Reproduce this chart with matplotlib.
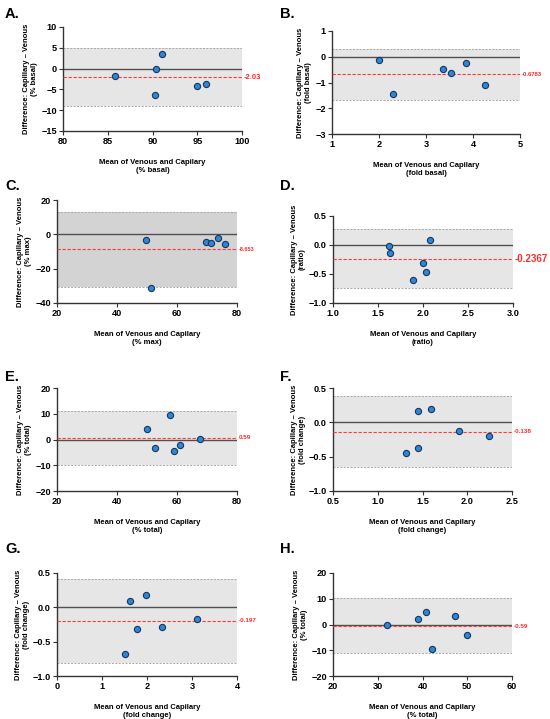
import matplotlib
matplotlib.use("Agg")
import matplotlib.pyplot as plt

plt.rcParams['font.family'] = ['Liberation Sans', 'DejaVu Sans']

# Bland-Altman data (mean, difference)
a_mean = [85.8, 90.4, 91.1, 90.3, 95.0, 96.0]
a_diff = [-1.7, -0.1, 3.6, -6.4, -4.3, -3.7]
b_mean = [1.99, 2.29, 3.36, 3.54, 3.85, 4.26]
b_diff = [-0.14, -1.46, -0.48, -0.63, -0.26, -1.08]
c_mean = [49.7, 51.2, 69.6, 71.4, 73.7, 76.0]
c_diff = [-3.2, -31.2, -4.5, -4.9, -2.2, -5.9]
d_mean = [1.62, 1.63, 2.08, 2.00, 2.03, 1.89]
d_diff = [-0.01, -0.13, 0.08, -0.31, -0.46, -0.60]
e_mean = [49.9, 57.7, 52.6, 59.0, 61.0, 67.8]
e_diff = [4.1, 9.7, -3.2, -4.6, -2.3, 0.3]
f_mean = [1.45, 1.59, 1.32, 1.45, 1.91, 2.24]
f_diff = [0.16, 0.19, -0.45, -0.37, -0.13, -0.20]
g_mean = [1.62, 1.97, 1.78, 2.33, 1.51, 3.12]
g_diff = [0.09, 0.18, -0.31, -0.29, -0.68, -0.17]
h_mean = [32.0, 38.9, 40.7, 47.3, 42.2, 49.9]
h_diff = [-0.3, 2.3, 4.8, 3.4, -9.4, -3.9]

# bias and limits of agreement
biases = [-2.03, -0.6783, -8.653, -0.2367, 0.59, -0.138, -0.197, -0.59]
bias_labels = ["-2.03", "-0.6783", "-8.653", "-0.2367", "0.59", "-0.138", "-0.197", "-0.59"]
upper_loa = [4.85, 0.32, 13.2, 0.28, 11.1, 0.38, 0.41, 10.1]
lower_loa = [-8.93, -1.68, -30.6, -0.75, -9.8, -0.65, -0.81, -11.1]

units = ["% basal", "fold basal", "% max", "ratio", "% total", "fold change", "fold change", "% total"]
letters = ["A.", "B.", "C.", "D.", "E.", "F.", "G.", "H."]
xticks_all = [[80, 85, 90, 95, 100], [1, 2, 3, 4, 5], [20, 40, 60, 80], [1.0, 1.5, 2.0, 2.5, 3.0],
              [20, 40, 60, 80], [0.5, 1.0, 1.5, 2.0, 2.5], [0, 1, 2, 3, 4], [20, 30, 40, 50, 60]]
yticks_all = [[-15, -10, -5, 0, 5, 10], [-3, -2, -1, 0, 1], [-40, -20, 0, 20], [-1.0, -0.5, 0.0, 0.5],
              [-20, -10, 0, 10, 20], [-1.0, -0.5, 0.0, 0.5], [-1.0, -0.5, 0.0, 0.5], [-20, -10, 0, 10, 20]]
one_decimal = [False, False, False, True, False, True, True, False]

means = [a_mean, b_mean, c_mean, d_mean, e_mean, f_mean, g_mean, h_mean]
diffs = [a_diff, b_diff, c_diff, d_diff, e_diff, f_diff, g_diff, h_diff]

# axes boxes in pixels: left, right, top, bottom
boxes = [(63, 242, 27, 131), (332, 520, 31, 134), (57, 237, 200, 303), (333, 513, 216, 303),
         (57, 237, 388, 491), (333, 512, 388, 491), (57, 237, 573, 676), (333, 512, 573, 676)]
letter_pos = [(5, 14), (280, 14), (5, 186), (280, 186), (5, 377), (280, 377), (5, 549), (280, 549)]
label_sizes = [5.5, 4.2, 4.0, 7.0, 4.5, 4.5, 4.5, 4.5]

W, H = 550, 719
fig = plt.figure(figsize=(W / 100, H / 100), dpi=100)

for i in range(8):
    l, r, t, b = boxes[i]
    ax = fig.add_axes([l / W, 1 - b / H, (r - l) / W, (b - t) / H])
    xt, yt = xticks_all[i], yticks_all[i]
    ax.set_xlim(xt[0], xt[-1])
    ax.set_ylim(yt[0], yt[-1])
    shade = "#d3d3d3" if i == 2 else "#e6e6e6"
    ax.axhspan(lower_loa[i], upper_loa[i], color=shade, lw=0, zorder=0)
    ax.axhline(upper_loa[i], color="#a8a8a8", ls=(0, (2, 1.5)), lw=0.7, zorder=1)
    ax.axhline(lower_loa[i], color="#a8a8a8", ls=(0, (2, 1.5)), lw=0.7, zorder=1)
    ax.axhline(0, color="#505050", lw=1.0, zorder=2)
    ax.axhline(biases[i], color="#ff3b3b", ls=(0, (3, 1.5)), lw=0.8, zorder=3)
    ax.scatter(means[i], diffs[i], s=20, facecolor="#2f86d6", edgecolor="#15365f", lw=0.8, zorder=4)
    ax.text(1.01, biases[i], bias_labels[i], color="#ff2a2a", fontsize=label_sizes[i],
            fontweight="bold", va="center", ha="left", transform=ax.get_yaxis_transform())

    ax.set_xticks(xt)
    ax.set_yticks(yt)
    if one_decimal[i]:
        ax.set_yticklabels([f"{v:.1f}".replace("-", "\u2212") for v in yt])
        if i == 3 or i == 5:
            ax.set_xticklabels([f"{v:.1f}" for v in xt])
    for s in ["top", "right"]:
        ax.spines[s].set_visible(False)
    for s in ["left", "bottom"]:
        ax.spines[s].set_color("#333333")
        ax.spines[s].set_linewidth(1.0)
    ax.tick_params(direction="out", length=3, width=0.8, color="#333333", labelsize=6.6, pad=1.5)
    for lab in ax.get_xticklabels() + ax.get_yticklabels():
        lab.set_fontweight("bold")

    ax.set_xlabel(f"Mean of Venous and Capilary\n({units[i]})", fontsize=5.5,
                  fontweight="bold", labelpad=9, linespacing=1.2)
    ax.set_ylabel(f"Difference: Capillary \u2013 Venous\n({units[i]})", fontsize=5.5,
                  fontweight="bold", labelpad=2, linespacing=1.2)

    lx, ly = letter_pos[i]
    fig.text(lx / W, 1 - ly / H, letters[i], fontsize=10.5, fontweight="bold", va="center", ha="left")

fig.savefig("out.png", dpi=100, facecolor="white")
